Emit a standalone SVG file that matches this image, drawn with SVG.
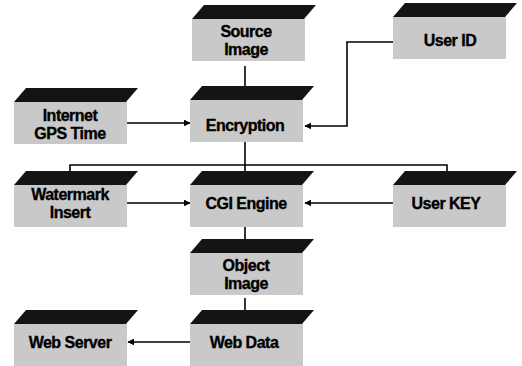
<svg xmlns="http://www.w3.org/2000/svg" width="522" height="366" viewBox="0 0 522 366">
  <defs>
    <marker id="arrow" viewBox="0 0 10 10" refX="9" refY="5" markerWidth="7" markerHeight="7" markerUnits="userSpaceOnUse" orient="auto">
      <path d="M0,0 L10,5 L0,10 z" fill="#000"/>
    </marker>
    <!-- slab: dark sloped top face + grey front face, origin at front-face top-left -->
    <g id="slab">
      <polygon class="top" points="0,0 12,-14 124,-14 112,0"/>
      <rect class="face" x="0" y="0" width="113" height="42"/>
    </g>
  </defs>
  <style>
    .top { fill: #141414; }
    .face { fill: #c9c9c9; }
    .label { font-family: "Liberation Sans", Arial, sans-serif; font-weight: bold; font-size: 16px; fill: #000; stroke: #000; stroke-width: 0.35; text-anchor: middle; letter-spacing: -0.5px; }
    .link { fill: none; stroke: #000; stroke-width: 1.6; }
    .arrow { marker-end: url(#arrow); }
  </style>
  <rect width="522" height="366" fill="#fff"/>

  <!-- connectors -->
  <g id="connectors">
    <path class="link" d="M245,66 V87"/>
    <path class="link arrow" d="M126,123 H190"/>
    <path class="link arrow" d="M393,42 H347 V126 H305"/>
    <path class="link" d="M245,141 V172"/>
    <path class="link" d="M70,172 V165 H447 V172"/>
    <path class="link arrow" d="M127,203 H190"/>
    <path class="link arrow" d="M393,203 H305"/>
    <path class="link" d="M245,226 V239"/>
    <path class="link" d="M245,298 V310"/>
    <path class="link arrow" d="M190,342 H128"/>
  </g>

  <g id="source-image">
    <use href="#slab" x="192" y="19"/>
    <text class="label" x="246" y="37">Source</text>
    <text class="label" x="246" y="55">Image</text>
  </g>

  <g id="user-id">
    <use href="#slab" x="393" y="17"/>
    <text class="label" x="450" y="46">User ID</text>
  </g>

  <g id="internet-gps-time">
    <use href="#slab" x="14" y="102"/>
    <text class="label" x="70" y="121">Internet</text>
    <text class="label" x="70" y="139">GPS Time</text>
  </g>

  <g id="encryption">
    <use href="#slab" x="190" y="100"/>
    <text class="label" x="245" y="131">Encryption</text>
  </g>

  <g id="watermark-insert">
    <use href="#slab" x="14" y="185"/>
    <text class="label" x="70" y="200">Watermark</text>
    <text class="label" x="70" y="218">Insert</text>
  </g>

  <g id="cgi-engine">
    <use href="#slab" x="190" y="185"/>
    <text class="label" x="246" y="209">CGI Engine</text>
  </g>

  <g id="user-key">
    <use href="#slab" x="393" y="185"/>
    <text class="label" x="446" y="209">User KEY</text>
  </g>

  <g id="object-image">
    <use href="#slab" x="190" y="253"/>
    <text class="label" x="246" y="271">Object</text>
    <text class="label" x="246" y="289">Image</text>
  </g>

  <g id="web-data">
    <use href="#slab" x="190" y="324"/>
    <text class="label" x="244" y="348">Web Data</text>
  </g>

  <g id="web-server">
    <use href="#slab" x="14" y="324"/>
    <text class="label" x="70" y="348">Web Server</text>
  </g>
</svg>
